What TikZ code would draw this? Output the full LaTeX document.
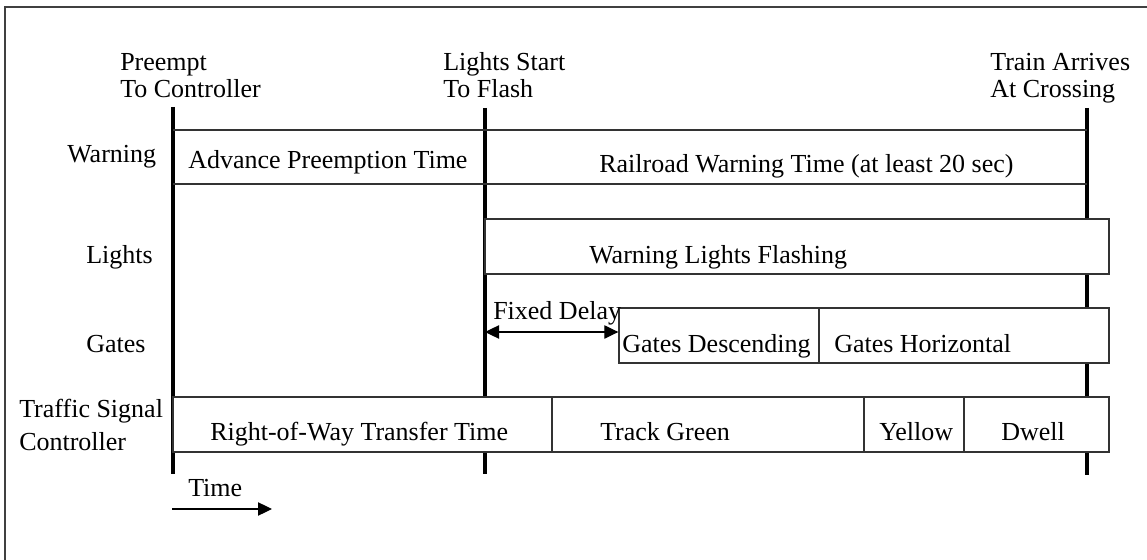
\documentclass[tikz,border=0pt]{standalone}
\usepackage{fontspec}
\setmainfont{Liberation Serif}
\usetikzlibrary{arrows.meta,fit}
\begin{document}
\begin{tikzpicture}[x=0.75pt,y=-0.75pt,
  txt/.style={font=\fontsize{19.5}{19.5}\selectfont, inner sep=0pt, anchor=base west},
  frameline/.style={line width=1pt, draw=black!75},
  marker/.style={line width=2.7pt, draw=black},
  rule/.style={line width=1pt, draw=black!80},
  seg/.style={rule, fill=white, inner sep=0pt},
  span/.style={line width=0.9pt, {Triangle[length=10.5pt,width=10pt]}-{Triangle[length=10.5pt,width=10pt]}},
  onward/.style={line width=0.9pt, -{Triangle[length=10.5pt,width=10pt]}}]

\useasboundingbox (0,0) rectangle (1147,560);
\clip (0,0) rectangle (1147,560);
\draw[frameline] (5,7) rectangle (1170,590);

% event markers
\coordinate (m1t) at (173,107);  \coordinate (m1b) at (173,474);
\coordinate (m2t) at (485,108);  \coordinate (m2b) at (485,474);
\coordinate (m3t) at (1087,108); \coordinate (m3b) at (1087,475);
\draw[marker] (m1t) -- (m1b);
\draw[marker] (m2t) -- (m2b);
\draw[marker] (m3t) -- (m3b);

% event captions
\node[txt] (c1a) at (120,71) {Preempt};
\node[txt] (c1b) at (120,98) {To Controller};
\node[txt] (c2a) at (443,71) {Lights Start};
\node[txt] (c2b) at (443,98) {To Flash};
\node[txt] (c3a) at (990,71) {Train Arrives};
\node[txt] (c3b) at (990,98) {At Crossing};

% row labels
\node[txt] (rw) at (67,162) {Warning};
\node[txt] (rl) at (86,263) {Lights};
\node[txt] (rg) at (86,352) {Gates};
\node[txt] (rt1) at (19,417) {Traffic Signal};
\node[txt] (rt2) at (19,450) {Controller};

% warning row
\coordinate (wtl) at (173,130); \coordinate (wtr) at (1087,130);
\coordinate (wbl) at (173,184); \coordinate (wbr) at (1087,184);
\draw[rule] (wtl) -- (wtr);
\draw[rule] (wbl) -- (wbr);
\node[txt] (apt) at (188,169) {Advance Preemption Time};
\node[txt] (rwt) at (599,172) {Railroad Warning Time (at least 20 sec)};

% lights row
\node[seg, fit={(485,219) (1109,274)}] (lights) {};
\node[txt] (wlf) at (589,263) {Warning Lights Flashing};

% gates row
\node[seg, fit={(619,308) (819,363)}] (gdesc) {};
\node[seg, fit={(819,308) (1109,363)}] (ghor) {};
\node[txt] (tgd) at (622,352) {Gates Descending};
\node[txt] (tgh) at (834,352) {Gates Horizontal};
\coordinate (fd) at (485,332);
\draw[span] (fd) -- (fd -| gdesc.west);
\node[txt] (tfd) at (493,319) {Fixed Delay};

% traffic signal controller row
\node[seg, fit={(173,397) (552,452)}] (rowt) {};
\node[seg, fit={(552,397) (864,452)}] (trg) {};
\node[seg, fit={(864,397) (964,452)}] (yel) {};
\node[seg, fit={(964,397) (1109,452)}] (dwl) {};
\node[txt] (trowt) at (210,440) {Right-of-Way Transfer Time};
\node[txt] (ttrg) at (600,440) {Track Green};
\node[txt] (tyel) at (879,440) {Yellow};
\node[txt] (tdwl) at (1001,440) {Dwell};

% time direction
\node[txt] (tm) at (188,496) {Time};
\coordinate (ts) at (172,509);
\coordinate (te) at (272,509);
\draw[onward] (ts) -- (te);
\end{tikzpicture}
\end{document}
